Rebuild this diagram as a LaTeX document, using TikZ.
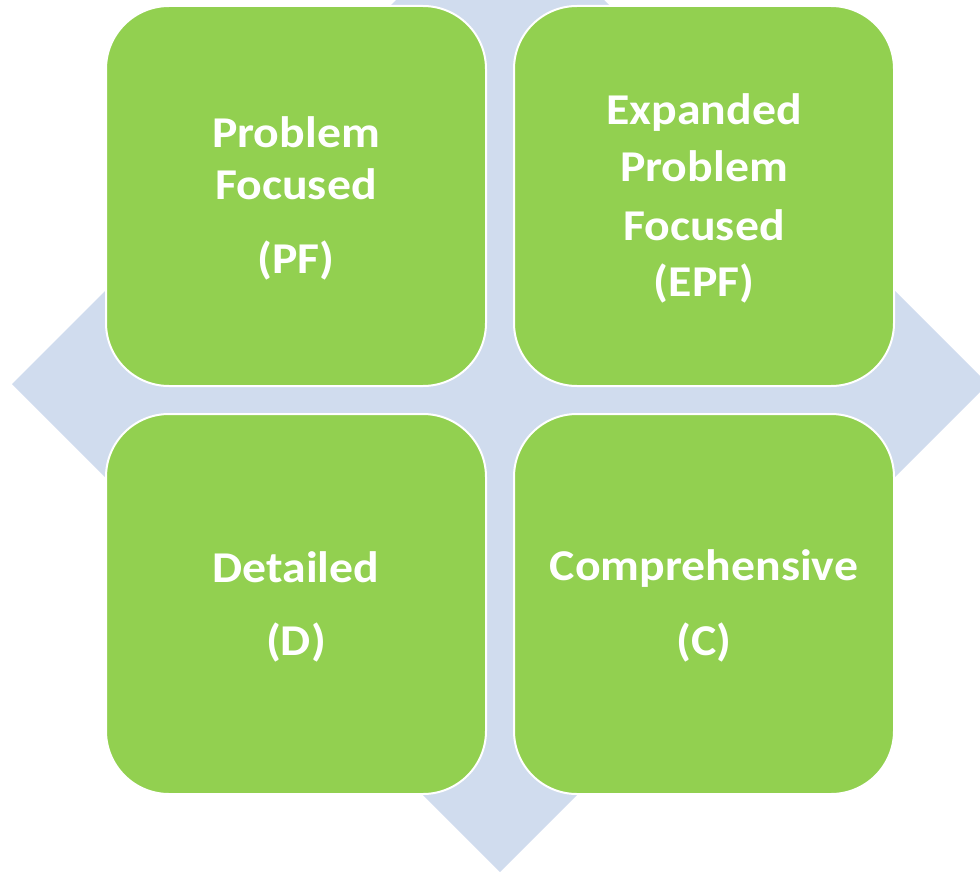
\documentclass[tikz,border=0pt]{standalone}
\usepackage{fontspec}
\setmainfont{Carlito}[FakeStretch=1.085]
\definecolor{boxgreen}{HTML}{92D050}
\definecolor{diamondblue}{HTML}{D0DCEE}
\begin{document}
\begin{tikzpicture}[x=1pt,y=-1pt,
  box/.style={draw=white, line width=2pt, fill=boxgreen, rounded corners=63pt,
    minimum width=380pt, minimum height=380pt, inner sep=0pt},
  lbl/.style={anchor=base, text=white, inner sep=0pt,
    font=\fontsize{44pt}{52pt}\selectfont\bfseries}]
\useasboundingbox (0,0) rectangle (980,872);
\clip (0,0) rectangle (980,872);
\fill[diamondblue] (500,-104) -- (988,384) -- (500,872) -- (12,384) -- cycle;
\node[box] (pf) at (296,196) {};
\node[box] (epf) at (704,196) {};
\node[box] (d) at (296,604) {};
\node[box] (c) at (704,604) {};
\node[lbl] (pf1) at (296,148) {Problem};
\node[lbl] (pf2) at (296,199) {Focused};
\node[lbl] (pf3) at (296,273) {(PF)};
\node[lbl] (epf1) at (704,125) {Expanded};
\node[lbl] (epf2) at (704,182) {Problem};
\node[lbl] (epf3) at (704,240) {Focused};
\node[lbl] (epf4) at (704,296) {(EPF)};
\node[lbl] (d1) at (296,582) {Detailed};
\node[lbl] (d2) at (296,655) {(D)};
\node[lbl] (c1) at (704,580) {Comprehensive};
\node[lbl] (c2) at (704,655) {(C)};
\end{tikzpicture}
\end{document}
